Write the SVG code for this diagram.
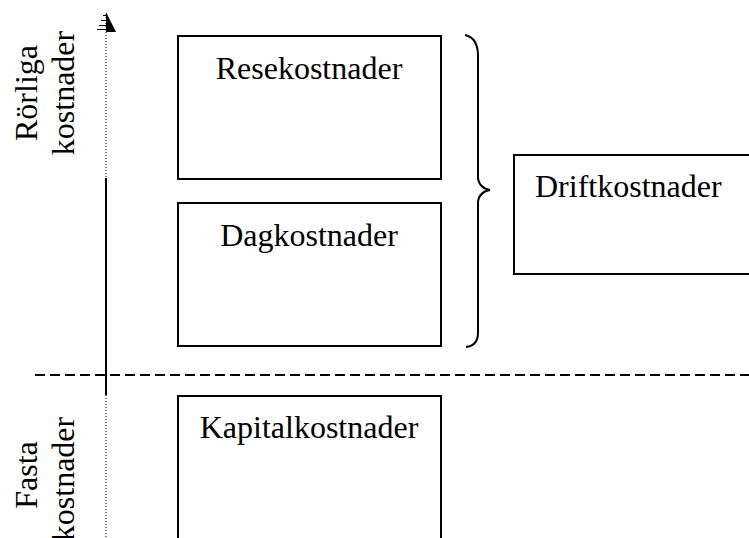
<svg xmlns="http://www.w3.org/2000/svg" width="749" height="538" viewBox="0 0 749 538">
  <style>
    .box { fill: #fff; stroke: #000; stroke-width: 2; }
    .line { fill: none; stroke: #000; }
  </style>
  <rect width="749" height="538" fill="#fff"/>

  <!-- axis labels -->
  <g id="axis-labels" font-family="Liberation Serif, serif" font-size="32" fill="#000" text-anchor="middle">
    <text transform="translate(37,93) rotate(-90)">Rörliga</text>
    <text transform="translate(74,93) rotate(-90)">kostnader</text>
    <text transform="translate(37,475) rotate(-90)">Fasta</text>
    <text transform="translate(74,479) rotate(-90)">kostnader</text>
  </g>

  <!-- boxes -->
  <g font-family="Liberation Serif, serif" font-size="32" fill="#000">
    <g id="resekostnader">
      <rect class="box" x="178" y="36" width="263" height="143"/>
      <text x="309" y="79" text-anchor="middle">Resekostnader</text>
    </g>
    <g id="dagkostnader">
      <rect class="box" x="178" y="203" width="263" height="143"/>
      <text x="309" y="246" text-anchor="middle">Dagkostnader</text>
    </g>
    <g id="kapitalkostnader">
      <rect class="box" x="178" y="396" width="263" height="160"/>
      <text x="309" y="438" text-anchor="middle">Kapitalkostnader</text>
    </g>
    <g id="driftkostnader">
      <rect class="box" x="514" y="155" width="260" height="119"/>
      <text x="535" y="197">Driftkostnader</text>
    </g>
  </g>

  <!-- connectors: axis, divider, brace -->
  <g id="connectors">
    <!-- vertical axis: dotted ends, solid middle -->
    <line class="line" x1="106" y1="14" x2="106" y2="178" stroke-width="1" stroke-dasharray="1 2"/>
    <line class="line" x1="106" y1="178" x2="106" y2="395" stroke-width="2"/>
    <line class="line" x1="106" y1="395" x2="106" y2="538" stroke-width="1" stroke-dasharray="1 2"/>
    <!-- arrowhead -->
    <polygon points="106,12 116,32 106,32" fill="#000"/>
    <g stroke="#000" stroke-width="1">
      <line x1="103" y1="15.5" x2="106" y2="15.5"/>
      <line x1="101" y1="20.5" x2="106" y2="20.5"/>
      <line x1="99" y1="25.5" x2="106" y2="25.5"/>
      <line x1="97" y1="29.5" x2="106" y2="29.5"/>
    </g>
    <!-- divider between variable and fixed costs -->
    <line class="line" x1="35" y1="375" x2="749" y2="375" stroke-width="2" stroke-dasharray="10 5"/>
    <!-- curly brace -->
    <path class="line" stroke-width="2" d="M465,35 C474,37 478,45 478,56 L478,177 C478,184 483,189 490,190 C483,191 478,196 478,203 L478,333 C478,342 474,346 466,347"/>
  </g>
</svg>
